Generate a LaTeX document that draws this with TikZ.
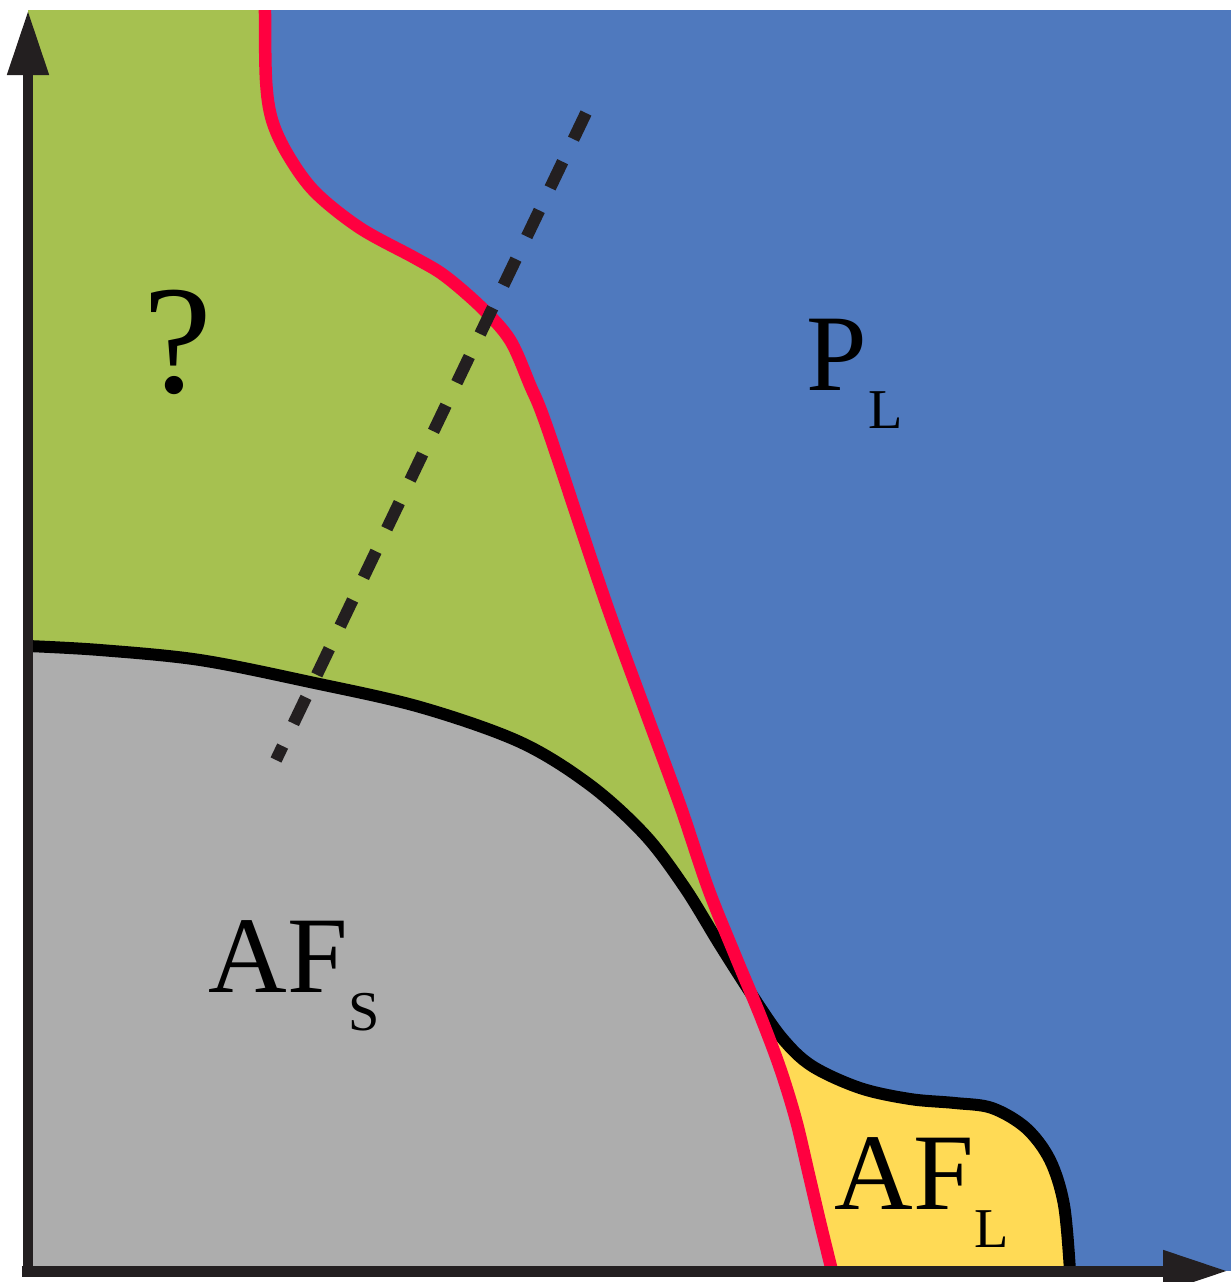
\documentclass[tikz,border=0pt]{standalone}
\usepackage{fontspec}
\setmainfont{Liberation Serif}
\usepackage{tikz}
\usetikzlibrary{arrows.meta}
\definecolor{phgreen}{RGB}{166,193,80}
\definecolor{phblue}{RGB}{79,121,190}
\definecolor{phgray}{RGB}{173,173,173}
\definecolor{phyellow}{RGB}{255,218,85}
\definecolor{phred}{RGB}{255,0,64}
\definecolor{phblack}{RGB}{35,31,32}
% phase label with lowered subscript
\newcommand{\phaselbl}[2]{#1\kern0.1mm\raisebox{-3.8mm}{\fontsize{16}{16}\selectfont #2}}
% boundaries (pixel coordinates)
\tikzset{
  redline/.style={insert path={-- plot[smooth,tension=0.55] coordinates {(265,10) (266,80) (272,120) (288,155) (315,192) (360,228) (415,258) (445,276) (482,308) (510,340) (530,385) (548,430) (605,600) (645,710) (680,805) (708,888) (735,955) (760,1015) (780,1068) (796,1120) (809,1175) (820,1222) (832,1271)}}},
  blackline/.style={insert path={-- plot[smooth,tension=0.55] coordinates {(28,646) (100,650) (200,660) (310,682) (420,707) (520,742) (590,785) (645,835) (685,888) (720,945) (752,995) (782,1038) (812,1066) (860,1088) (910,1099) (955,1103) (992,1108) (1026,1128) (1050,1160) (1064,1205) (1070,1271)}}}
}

\begin{document}
\begin{tikzpicture}[x=0.1mm,y=-0.1mm,
  lbl/.style={anchor=base west, inner sep=0pt, font=\fontsize{31}{31}\selectfont},
  axis/.style={phblack, line width=1.1mm, -{Triangle[length=6.5mm,width=3.9mm]}}]
\useasboundingbox (0,0) rectangle (1231,1282);

% regions
\fill[phblue] (28,10) rectangle (1231,1271);
\fill[phgreen] (28,10) [redline] -- (28,1271) -- cycle;
\fill[phyellow] (28,1271) [blackline] -- cycle;
\begin{scope}
  \clip (28,10) [redline] -- (28,1271) -- cycle;
  \fill[phgray] (28,1271) [blackline] -- cycle;
\end{scope}

% boundaries
\draw[black, line width=1.2mm] (28,646) [blackline];
\draw[phred, line width=1.25mm] (265,10) [redline];

% cut
\coordinate (cuttop) at (586,113);
\coordinate (cutbot) at (276,760);
\draw[phblack, line width=1.2mm, dash pattern=on 2.9mm off 2.5mm] (cuttop) -- (cutbot);

% axes
\coordinate (origin) at (28,1271);
\coordinate (ytip) at (28,10);
\coordinate (xtip) at (1228,1271);
\draw[axis] (origin) ++(0,5) -- (ytip);
\draw[axis] (origin) ++(-6,0) -- (xtip);

% labels
\node[lbl, font=\fontsize{44}{44}\selectfont] (qmark) at (143,392) {?};
\node[lbl] (pl) at (806,390) {\phaselbl{P}{L}};
\node[lbl] (afs) at (208,992) {\phaselbl{AF}{S}};
\node[lbl] (afl) at (834,1209) {\phaselbl{AF}{L}};

\end{tikzpicture}
\end{document}
